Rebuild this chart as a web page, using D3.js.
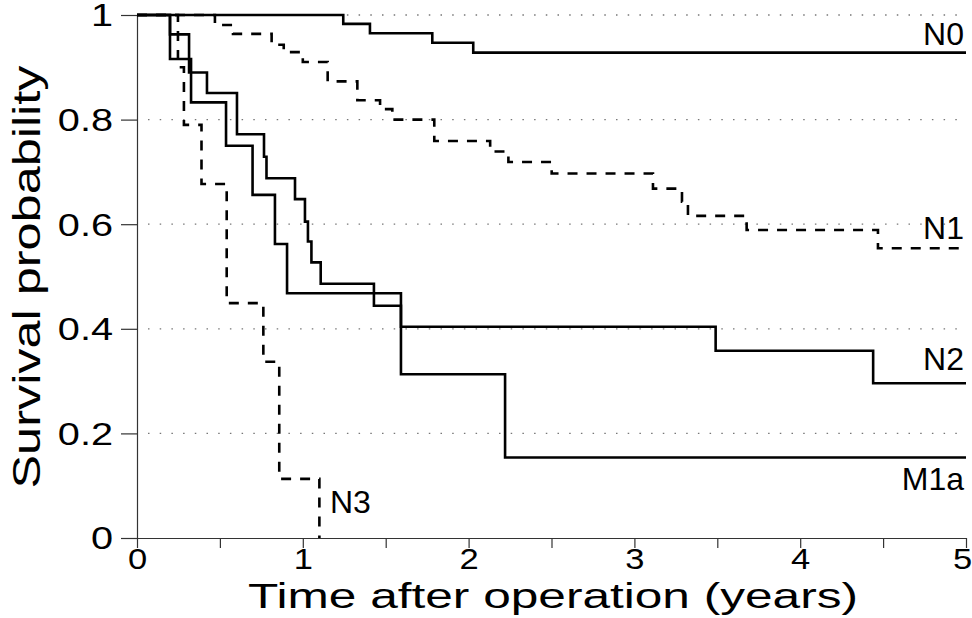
<!DOCTYPE html>
<html lang="en">

<head>
  <meta charset="utf-8">
  <title>Survival by nodal stage</title>
  <script type="text/javascript" src="https://d3js.org/d3.v7.min.js"></script>
  <style type="text/css">
    body {
      margin: 0;
      background: #fff;
    }

    text {
      font-family: "Liberation Sans", Arial, Helvetica, sans-serif;
      fill: #000;
    }

    .grid line {
      stroke: #777;
      stroke-width: 1.3;
      stroke-dasharray: 1.5, 10.2;
    }

    .axis path,
    .axis line {
      stroke: #333;
      stroke-width: 1.2;
    }

    .curve {
      fill: none;
      stroke: #000;
      stroke-width: 2.6;
    }
  </style>
</head>

<body>
  <script type="text/javascript">
    // step points: time (years) and survival after each drop
    var n0Times = [1.244, 1.405, 1.781, 2.028];
    var n0Surv = [0.983, 0.965, 0.947, 0.928];

    var n1Times = [0.470, 0.579, 0.812, 0.885, 1.0, 1.15, 1.329, 1.466, 1.54, 1.793, 2.13, 2.24, 2.501, 3.112, 3.287, 3.323, 3.677, 4.469];
    var n1Surv = [0.981, 0.964, 0.943, 0.929, 0.910, 0.873, 0.837, 0.82, 0.80, 0.759, 0.739, 0.719, 0.697, 0.668, 0.643, 0.616, 0.589, 0.554];

    var n2Times = [0.199, 0.314, 0.422, 0.603, 0.766, 0.781, 0.953, 1.013, 1.031, 1.052, 1.108, 1.429, 1.592, 3.49, 4.44];
    var n2Surv = [0.963, 0.890, 0.851, 0.772, 0.729, 0.688, 0.648, 0.605, 0.567, 0.527, 0.486, 0.444, 0.404, 0.358, 0.296];

    var m1aTimes = [0.199, 0.326, 0.537, 0.697, 0.832, 0.905, 1.592, 2.22];
    var m1aSurv = [0.916, 0.833, 0.750, 0.656, 0.562, 0.468, 0.313, 0.154];

    var n3Times = [0.247, 0.283, 0.389, 0.541, 0.762, 0.858, 1.10];
    var n3Surv = [0.90, 0.79, 0.677, 0.449, 0.337, 0.113, 0];

    var groupNames = ["N0", "N1", "N2", "M1a", "N3"];

    var xTicks = [0, 0.5, 1, 1.5, 2, 2.5, 3, 3.5, 4, 4.5, 5];
    var xTickLabels = ["0", "", "1", "", "2", "", "3", "", "4", "", "5"];
    var yTicks = [0, 0.2, 0.4, 0.6, 0.8, 1];
    var yTickLabels = ["0", "0.2", "0.4", "0.6", "0.8", "1"];
    var gridValues = [0.2, 0.4, 0.6, 0.8, 1];

    var width = 972,
      height = 618;

    var x = d3.scaleLinear().domain([0, 5]).range([137, 966]);
    var y = d3.scaleLinear().domain([0, 1]).range([538, 15]);

    var svg = d3.select("body")
      .append("svg")
      .attr("width", width)
      .attr("height", height);

    // widen a text along its baseline, the scanned figure uses a broad face
    function widen(sel, k) {
      sel.each(function() {
        var w = this.getComputedTextLength();
        if (w > 0) {
          d3.select(this)
            .attr("textLength", w * k)
            .attr("lengthAdjust", "spacingAndGlyphs");
        }
      });
    }

    // dotted reference lines
    svg.append("g")
      .attr("class", "grid")
      .selectAll("line")
      .data(gridValues)
      .enter()
      .append("line")
      .attr("x1", x(0) + 11)
      .attr("x2", x(5))
      .attr("y1", function(d) { return y(d); })
      .attr("y2", function(d) { return y(d); });

    var xAxis = d3.axisBottom(x)
      .tickValues(xTicks)
      .tickSize(10)
      .tickPadding(0)
      .tickSizeOuter(0)
      .tickFormat(function(d, i) { return xTickLabels[i]; });

    var yAxis = d3.axisLeft(y)
      .tickValues(yTicks)
      .tickSize(16)
      .tickPadding(8)
      .tickSizeOuter(0)
      .tickFormat(function(d, i) { return yTickLabels[i]; });

    var gx = svg.append("g")
      .attr("class", "axis")
      .attr("transform", "translate(0," + y(0) + ")")
      .call(xAxis);
    gx.selectAll("text")
      .attr("font-size", 30)
      .style("font-family", "'Liberation Sans', Arial, sans-serif")
      .attr("dx", function(d) { return d === 5 ? -4 : 0; });
    widen(gx.selectAll("text"), 1.15);

    var gy = svg.append("g")
      .attr("class", "axis")
      .attr("transform", "translate(" + x(0) + ",0)")
      .call(yAxis);
    gy.selectAll("text")
      .attr("font-size", 32)
      .attr("dy", "0.34em")
      .style("font-family", "'Liberation Sans', Arial, sans-serif");
    widen(gy.selectAll("text"), 1.24);

    function stepData(times, surv, extend) {
      var pts = [[0, 1]];
      times.forEach(function(t, i) {
        pts.push([t, surv[i]]);
      });
      if (extend) pts.push([5, surv[surv.length - 1]]);
      return pts;
    }

    var curves = [
      { name: "N0", pts: stepData(n0Times, n0Surv, true), dash: null },
      { name: "N1", pts: stepData(n1Times, n1Surv, true), dash: "10,9" },
      { name: "N2", pts: stepData(n2Times, n2Surv, true), dash: null },
      { name: "M1a", pts: stepData(m1aTimes, m1aSurv, true), dash: null },
      { name: "N3", pts: stepData(n3Times, n3Surv, false), dash: "10,9" }
    ];

    var line = d3.line()
      .curve(d3.curveStepAfter)
      .x(function(d) { return x(d[0]); })
      .y(function(d) { return y(d[1]); });

    svg.selectAll(".curve")
      .data(curves)
      .enter()
      .append("path")
      .attr("class", "curve")
      .attr("d", function(d) { return line(d.pts); })
      .attr("stroke-dasharray", function(d) { return d.dash; });

    // curve labels
    var labelPos = {
      "N0": [964, 45, "end"],
      "N1": [964, 239, "end"],
      "N2": [964, 370, "end"],
      "M1a": [964, 490, "end"],
      "N3": [330, 513, "start"]
    };

    svg.selectAll(".lab")
      .data(groupNames)
      .enter()
      .append("text")
      .attr("class", "lab")
      .attr("x", function(d) { return labelPos[d][0]; })
      .attr("y", function(d) { return labelPos[d][1]; })
      .attr("text-anchor", function(d) { return labelPos[d][2]; })
      .attr("font-size", 32)
      .text(function(d) { return d; });

    svg.append("text")
      .attr("x", 553)
      .attr("y", 608)
      .attr("text-anchor", "middle")
      .attr("font-size", 35)
      .attr("textLength", 610)
      .attr("lengthAdjust", "spacingAndGlyphs")
      .text("Time after operation (years)");

    svg.append("text")
      .attr("transform", "translate(40,277) rotate(-90)")
      .attr("text-anchor", "middle")
      .attr("font-size", 38)
      .attr("textLength", 423)
      .attr("lengthAdjust", "spacingAndGlyphs")
      .text("Survival probability");
  </script>
</body>

</html>
